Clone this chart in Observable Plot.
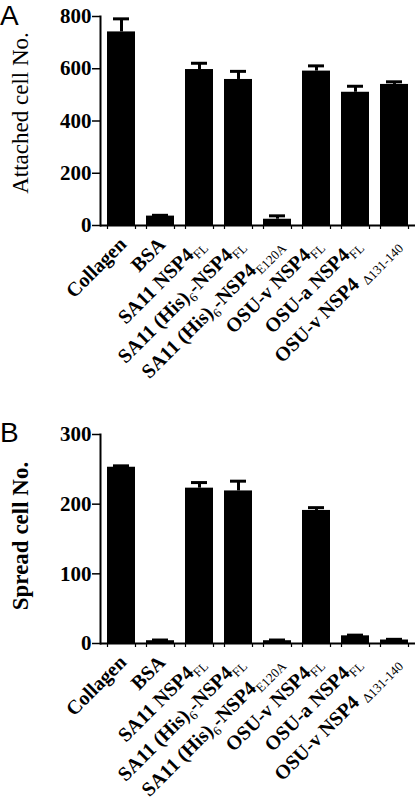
<!DOCTYPE html>
<html>
<head>
<meta charset="utf-8">
<script src="https://cdn.jsdelivr.net/npm/d3@7"></script>
<script src="https://cdn.jsdelivr.net/npm/@observablehq/plot@0.6"></script>
<style>
  html, body { margin: 0; padding: 0; background: white; }
  #wrap { position: relative; width: 416px; height: 803px; }
  .letter { position: absolute; left: 0; font-family: "Liberation Sans", Arial, sans-serif; font-size: 28px; line-height: 28px; color: #000; }
  svg { display: block; }
</style>
</head>
<body>
<div id="wrap">
  <div id="panelA"></div>
  <div id="panelB"></div>
  <div class="letter" style="top:2px">A</div>
  <div class="letter" style="top:419px">B</div>
</div>
<script>
// ---- data ----
const categories = [
  "Collagen",
  "BSA",
  "SA11 NSP4FL",
  "SA11 (His)6-NSP4FL",
  "SA11 (His)6-NSP4E120A",
  "OSU-v NSP4FL",
  "OSU-a NSP4FL",
  "OSU-v NSP4 Δ131-140"
];
// label pieces: [text, isSubscript]
const labelParts = [
  [["Collagen", 0]],
  [["BSA", 0]],
  [["SA11 NSP4", 0], ["FL", 1]],
  [["SA11 (His)", 0], ["6", 1], ["-NSP4", 0], ["FL", 1]],
  [["SA11 (His)", 0], ["6", 1], ["-NSP4", 0], ["E120A", 1]],
  [["OSU-v NSP4", 0], ["FL", 1]],
  [["OSU-a NSP4", 0], ["FL", 1]],
  [["OSU-v NSP4 ", 0], ["Δ131-140", 1]]
];
const attached    = [741, 36, 597, 559, 24, 591, 510, 540];
const attachedErr = [50, 3, 24, 31, 13, 20, 23, 10];
const spread      = [253, 4, 223, 219, 4, 191, 11, 5];
const spreadErr   = [2, 1, 8, 14, 1, 4, 1, 1];
const ticksA = [0, 200, 400, 600, 800];
const ticksB = [0, 100, 200, 300];

const serif = "'Liberation Serif', 'Times New Roman', Times, serif";

function panel(values, errs, ticks, title, titleWeight, opts) {
  const data = categories.map((c, i) => ({name: c, value: values[i], err: errs[i]}));
  const svg = Plot.plot({
    width: 416,
    height: opts.height,
    marginTop: opts.marginTop,
    marginBottom: opts.marginBottom,
    marginLeft: 100,
    marginRight: 1,
    style: {fontFamily: serif, background: "white", color: "black", overflow: "visible"},
    x: {domain: categories, axis: null, paddingInner: 0.285, paddingOuter: 0.167},
    y: {domain: [ticks[0], ticks[ticks.length - 1]], axis: null},
    marks: [
      Plot.barY(data, {x: "name", y: "value", fill: "black"}),
      Plot.ruleX(data, {x: "name", y1: "value", y2: d => d.value + d.err, stroke: "black", strokeWidth: 3}),
      Plot.tickY(data, {x: "name", y: d => d.value + d.err, stroke: "black", strokeWidth: 3, insetLeft: 6, insetRight: 6}),
      Plot.ruleX(categories, {x: d => d, y1: () => 0, y2: () => 0, dx: -14, insetBottom: -4, stroke: "black", strokeWidth: 1.2}),
      Plot.ruleX(categories, {x: d => d, y1: () => 0, y2: () => 0, dx: 14, insetBottom: -4, stroke: "black", strokeWidth: 1.2}),
      Plot.ruleY([0], {stroke: "black", strokeWidth: 2}),
      Plot.frame({anchor: "left", stroke: "black", strokeWidth: 2}),
      Plot.axisY({ticks, tickSize: 8, tickPadding: 1, fontSize: 21, fontWeight: "bold", label: null, strokeWidth: 1.5, fill: "black"}),
      Plot.text([title], {frameAnchor: "left", textAnchor: "middle", rotate: -90, dx: -80, dy: opts.titleDy, fontSize: 23, fontWeight: titleWeight, fill: "black"}),
      Plot.text(categories, {x: d => d, frameAnchor: "bottom", rotate: -45, textAnchor: "end", lineAnchor: "bottom", dx: 6, dy: 20, fontSize: 20, fontWeight: "bold", fill: "black"})
    ]
  });
  // add subscripts to category labels
  const partsMap = new Map(categories.map((c, i) => [c, labelParts[i]]));
  svg.querySelectorAll("text").forEach(t => {
    const parts = partsMap.get(t.textContent);
    if (!parts || t.querySelector("tspan")) return;
    t.textContent = "";
    let shifted = false;
    parts.forEach(([txt, sub]) => {
      const ts = document.createElementNS("http://www.w3.org/2000/svg", "tspan");
      ts.textContent = txt;
      if (sub) {
        ts.setAttribute("font-size", "13");
        ts.setAttribute("font-weight", "normal");
        if (!shifted) { ts.setAttribute("dy", "5"); shifted = true; }
      } else if (shifted) {
        ts.setAttribute("dy", "-5"); shifted = false;
      }
      t.appendChild(ts);
    });
  });
  return svg;
}

document.getElementById("panelA").appendChild(
  panel(attached, attachedErr, ticksA, "Attached cell No.", "normal", {height: 400, marginTop: 16, marginBottom: 175, titleDy: -8})
);
document.getElementById("panelB").appendChild(
  panel(spread, spreadErr, ticksB, "Spread cell No.", "bold", {height: 403, marginTop: 34, marginBottom: 160, titleDy: -3})
);
</script>
</body>
</html>
